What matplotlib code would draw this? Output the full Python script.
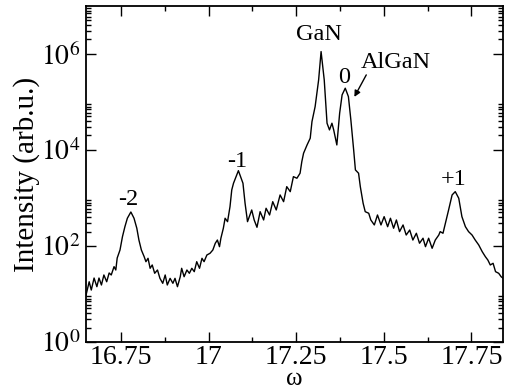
import math
import matplotlib
matplotlib.use("Agg")
import matplotlib.pyplot as plt
from matplotlib.ticker import FixedLocator, FuncFormatter

plt.rcParams['font.family'] = ['Liberation Serif', 'DejaVu Serif']
plt.rcParams['mathtext.fontset'] = 'stix'

# omega scan
omega = [16.649, 16.659, 16.665, 16.673, 16.681, 16.687, 16.694, 16.701, 16.709, 16.716,
         16.722, 16.730, 16.735, 16.739, 16.747, 16.754, 16.761, 16.768, 16.778, 16.787,
         16.795, 16.801, 16.808, 16.816, 16.821, 16.827, 16.833, 16.839, 16.846, 16.854,
         16.861, 16.869, 16.876, 16.882, 16.890, 16.898, 16.904, 16.911, 16.919, 16.923,
         16.930, 16.938, 16.945, 16.952, 16.959, 16.966, 16.974, 16.981, 16.987, 16.995,
         17.004, 17.012, 17.019, 17.025, 17.031, 17.035, 17.042, 17.047, 17.054, 17.061,
         17.066, 17.071, 17.085, 17.098, 17.104, 17.111, 17.123, 17.130, 17.138, 17.147,
         17.157, 17.164, 17.174, 17.183, 17.193, 17.204, 17.214, 17.223, 17.233, 17.242,
         17.252, 17.261, 17.266, 17.271, 17.281, 17.290, 17.295, 17.304, 17.314, 17.321,
         17.330, 17.338, 17.345, 17.352, 17.357, 17.366, 17.374, 17.381, 17.390, 17.399,
         17.406, 17.414, 17.419, 17.428, 17.433, 17.441, 17.447, 17.457, 17.463, 17.473,
         17.482, 17.492, 17.501, 17.511, 17.519, 17.528, 17.536, 17.545, 17.555, 17.564,
         17.574, 17.583, 17.593, 17.602, 17.612, 17.619, 17.628, 17.638, 17.647, 17.657,
         17.661, 17.669, 17.676, 17.685, 17.695, 17.704, 17.714, 17.723, 17.733, 17.742,
         17.752, 17.761, 17.771, 17.781, 17.790, 17.797, 17.804, 17.812, 17.819, 17.828,
         17.835, 17.841]
intensity = [8.8, 18.0, 12.1, 21.5, 14.2, 21.5, 15.4, 24.9, 18.0, 27.4,
             24.9, 37.1, 31.6, 56.2, 82.5, 156, 252, 378, 510, 378,
             234, 133, 82.5, 59.8, 47.1, 55.4, 34.3, 40.2, 27.0, 31.6,
             21.2, 16.7, 24.9, 15.4, 21.2, 16.7, 21.2, 14.2, 22.9, 34.3,
             22.9, 31.6, 27.0, 34.3, 29.2, 47.1, 34.3, 55.4, 47.1, 64.9,
             70.5, 82.5, 114, 133, 96.7, 145, 234, 378, 321, 659,
             1468, 2024, 3700, 2024, 776, 321, 562, 348, 245, 518,
             348, 610, 442, 837, 562, 1155, 837, 1719, 1353, 2778,
             2572, 3271, 5702, 8536, 12700, 17530, 38900, 79800, 287000, 1.117e6,
             287000, 36000, 26100, 36000, 26100, 12700, 58200, 140000, 192900, 128900,
             42200, 10000, 3831, 3271, 1719, 776, 518, 480, 348, 274,
             442, 274, 408, 252, 378, 234, 348, 199, 274, 169,
             215, 133, 184, 114, 145, 96.7, 145, 89.5, 133, 169,
             199, 184, 297, 562, 1155, 1353, 986, 408, 252, 199,
             169, 133, 105, 76.1, 59.8, 51.1, 40.2, 43.6, 29.2, 27.0,
             22.9, 21.2]

# peak labels
peak_labels = ['-2', '-1', '0', '+1', 'GaN', 'AlGaN']
peak_x = [16.770, 17.081, 17.387, 17.699, 17.316, 17.533]
peak_y = [908, 5620, 3.16e5, 2371, 2.49e6, 6.5e5]

# arrow AlGaN label -> peak
arrow_from = (17.450, 3.65e5)
arrow_to = (17.416, 1.27e5)

fig = plt.figure(figsize=(5.09, 3.90), dpi=100)
ax = fig.add_axes([0.169, 0.123, 0.819, 0.862])

ax.plot(omega, intensity, color='black', lw=1.0)

ax.set_yscale('log')
ax.set_xlim(16.65, 17.84)
ax.set_ylim(1, 1e7)

ax.xaxis.set_major_locator(FixedLocator([16.75, 17.0, 17.25, 17.5, 17.75]))
ax.xaxis.set_minor_locator(FixedLocator([16.875, 17.125, 17.375, 17.625]))
ax.xaxis.set_major_formatter(FuncFormatter(lambda v, p: f'{v:g}'))

ax.yaxis.set_major_locator(FixedLocator([1, 1e2, 1e4, 1e6]))
minor_y = [m * 10.0 ** e for e in (0, 2, 4, 6) for m in range(2, 10)]
ax.yaxis.set_minor_locator(FixedLocator(minor_y))
ax.yaxis.set_major_formatter(FuncFormatter(lambda v, p: r'$10^{%d}$' % round(math.log10(v))))
ax.yaxis.set_minor_formatter(FuncFormatter(lambda v, p: ''))

ax.tick_params(which='both', direction='in', top=True, right=True, width=1.0, labelsize=20)
ax.tick_params(which='major', length=7, pad=4)
ax.tick_params(which='minor', length=3.5)
ax.tick_params(axis='x', which='major', pad=2)
for s in ax.spines.values():
    s.set_linewidth(1.3)

ax.set_ylabel('Intensity (arb.u.)', fontsize=21, labelpad=1)
ax.set_xlabel('ω', fontsize=18)
ax.xaxis.set_label_coords(0.5, -0.11)
ax.xaxis.label.set_va('center')

for lab, px, py in zip(peak_labels, peak_x, peak_y):
    ax.text(px, py, lab, fontsize=17.5, ha='center', va='center')

ax.annotate('', xy=arrow_to, xytext=arrow_from,
            arrowprops=dict(arrowstyle='-|>', color='black', lw=1.0,
                            mutation_scale=9, shrinkA=0, shrinkB=0))

fig.savefig('out.png', dpi=100)
